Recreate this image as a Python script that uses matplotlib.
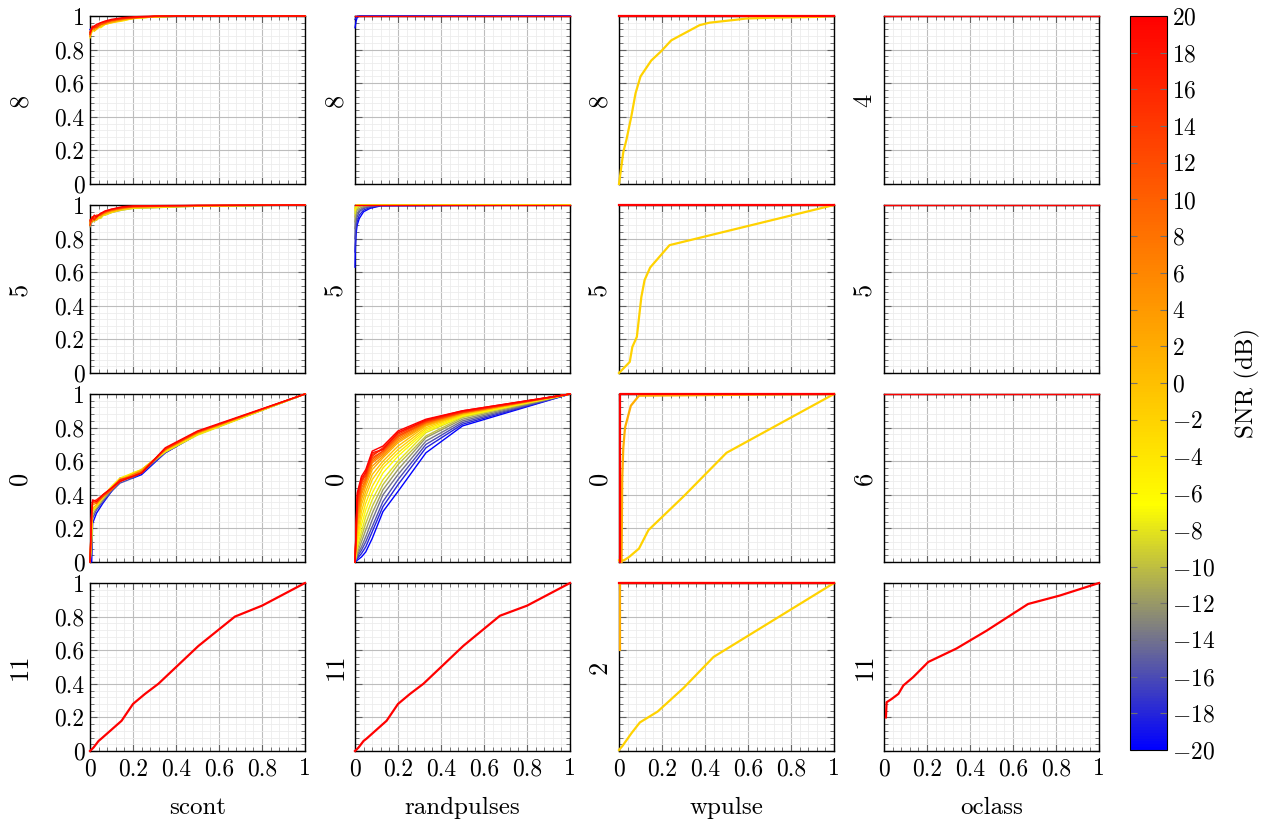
import numpy as np
import matplotlib
matplotlib.use("Agg")
import matplotlib.pyplot as plt
from matplotlib.colors import LinearSegmentedColormap, Normalize
from matplotlib.ticker import MultipleLocator, FuncFormatter

plt.rcParams['font.family'] = ['cmr10', 'DejaVu Serif']
plt.rcParams['mathtext.fontset'] = 'cm'
plt.rcParams['axes.formatter.use_mathtext'] = True

# column names / row labels
columns = ["scont", "randpulses", "wpulse", "oclass"]
row_labels = [["8", "5", "0", "11"],
              ["8", "5", "0", "11"],
              ["8", "5", "0", "2"],
              ["4", "5", "6", "11"]]

snr_min, snr_max = -20, 20
cbar_ticks = list(range(-20, 21, 2))

# ---- scont ----
scont_r1_x = [0, 0.01, 0.02, 0.03, 0.05, 0.07, 0.1, 0.15, 0.2, 0.3, 0.45, 1]
scont_r1_snr = [-20, -16, -12, -8, -4, 0, 4, 8, 12, 16, 20]
scont_r1_y = [
    [0.92, 0.93, 0.94, 0.93, 0.95, 0.96, 0.97, 0.98, 0.99, 0.995, 1, 1],
    [0.90, 0.92, 0.93, 0.94, 0.94, 0.96, 0.97, 0.98, 0.99, 0.995, 1, 1],
    [0.89, 0.91, 0.92, 0.93, 0.95, 0.96, 0.97, 0.98, 0.99, 0.995, 1, 1],
    [0.88, 0.92, 0.91, 0.93, 0.94, 0.955, 0.965, 0.975, 0.985, 0.995, 1, 1],
    [0.87, 0.91, 0.92, 0.94, 0.93, 0.95, 0.96, 0.97, 0.985, 0.995, 1, 1],
    [0.89, 0.93, 0.91, 0.92, 0.94, 0.95, 0.96, 0.975, 0.985, 0.995, 1, 1],
    [0.90, 0.92, 0.94, 0.93, 0.95, 0.96, 0.965, 0.98, 0.99, 0.997, 1, 1],
    [0.88, 0.93, 0.92, 0.94, 0.95, 0.955, 0.97, 0.98, 0.99, 0.997, 1, 1],
    [0.91, 0.92, 0.94, 0.93, 0.95, 0.96, 0.975, 0.985, 0.99, 0.998, 1, 1],
    [0.89, 0.94, 0.93, 0.94, 0.96, 0.965, 0.975, 0.985, 0.99, 0.998, 1, 1],
    [0.90, 0.93, 0.94, 0.95, 0.96, 0.97, 0.98, 0.99, 0.995, 1, 1, 1],
]

scont_r2_x = [0, 0.01, 0.02, 0.03, 0.05, 0.07, 0.1, 0.15, 0.2, 0.5, 1]
scont_r2_snr = [-20, -16, -12, -8, -4, 0, 4, 8, 12, 16, 20]
scont_r2_y = [
    [0.90, 0.91, 0.93, 0.92, 0.94, 0.95, 0.96, 0.98, 0.985, 0.995, 1],
    [0.88, 0.92, 0.90, 0.93, 0.93, 0.95, 0.96, 0.975, 0.985, 0.995, 1],
    [0.87, 0.90, 0.92, 0.91, 0.94, 0.94, 0.955, 0.97, 0.98, 0.993, 1],
    [0.89, 0.91, 0.90, 0.93, 0.92, 0.95, 0.96, 0.97, 0.98, 0.993, 1],
    [0.88, 0.92, 0.91, 0.92, 0.94, 0.94, 0.955, 0.975, 0.985, 0.995, 1],
    [0.90, 0.91, 0.93, 0.91, 0.93, 0.95, 0.96, 0.975, 0.985, 0.995, 1],
    [0.89, 0.93, 0.91, 0.93, 0.94, 0.95, 0.965, 0.98, 0.99, 0.996, 1],
    [0.91, 0.90, 0.93, 0.92, 0.95, 0.955, 0.97, 0.98, 0.99, 0.996, 1],
    [0.90, 0.92, 0.92, 0.94, 0.94, 0.96, 0.97, 0.985, 0.99, 0.997, 1],
    [0.88, 0.93, 0.91, 0.93, 0.95, 0.96, 0.975, 0.985, 0.992, 0.997, 1],
    [0.91, 0.92, 0.94, 0.93, 0.95, 0.965, 0.975, 0.99, 0.995, 0.998, 1],
]

scont_r3_x = [0, 0.008, 0.012, 0.03, 0.06, 0.1, 0.14, 0.2, 0.24, 0.35, 0.5, 1]
scont_r3_snr = [-20, -16, -12, -8, -4, 0, 4, 8, 12, 16, 20]
scont_r3_y = [
    [0, 0.00, 0.23, 0.29, 0.35, 0.42, 0.50, 0.50, 0.52, 0.65, 0.76, 1],
    [0, 0.05, 0.26, 0.31, 0.36, 0.42, 0.47, 0.50, 0.53, 0.65, 0.76, 1],
    [0, 0.10, 0.28, 0.32, 0.37, 0.43, 0.48, 0.51, 0.54, 0.655, 0.76, 1],
    [0, 0.14, 0.30, 0.33, 0.38, 0.44, 0.49, 0.53, 0.55, 0.655, 0.755, 1],
    [0, 0.18, 0.31, 0.33, 0.39, 0.45, 0.50, 0.53, 0.55, 0.66, 0.76, 1],
    [0, 0.22, 0.32, 0.34, 0.39, 0.44, 0.49, 0.52, 0.55, 0.665, 0.765, 1],
    [0, 0.26, 0.34, 0.35, 0.40, 0.44, 0.49, 0.52, 0.54, 0.67, 0.77, 1],
    [0, 0.28, 0.35, 0.36, 0.39, 0.43, 0.48, 0.52, 0.54, 0.67, 0.77, 1],
    [0, 0.30, 0.36, 0.35, 0.39, 0.43, 0.48, 0.51, 0.53, 0.67, 0.775, 1],
    [0, 0.30, 0.36, 0.37, 0.40, 0.44, 0.49, 0.51, 0.53, 0.675, 0.775, 1],
    [0, 0.31, 0.37, 0.36, 0.40, 0.44, 0.48, 0.51, 0.53, 0.68, 0.78, 1],
]

scont_r4_x = [0, 0.016, 0.04, 0.054, 0.147, 0.2, 0.256, 0.318, 0.504, 0.674, 0.8, 1]
scont_r4_snr = [20]
scont_r4_y = [[0, 0.02, 0.06, 0.075, 0.18, 0.28, 0.34, 0.40, 0.625, 0.80, 0.865, 1]]

# ---- randpulses ----
randp_r1_x = [0, 0.005, 0.01, 0.02, 1]
randp_r1_snr = [-20, -18, 20]
randp_r1_y = [
    [0.93, 0.97, 0.99, 1, 1],
    [0.98, 0.99, 1, 1, 1],
    [1, 1, 1, 1, 1],
]

randp_r2_x = [0, 0.002, 0.005, 0.01, 0.02, 0.04, 0.07, 0.12, 1]
randp_r2_snr = [-20, -18, -16, -14, -12, -10, -8, -6, -4, 20]
randp_r2_y = [
    [0.63, 0.75, 0.83, 0.88, 0.92, 0.96, 0.98, 0.995, 1],
    [0.72, 0.80, 0.86, 0.90, 0.94, 0.97, 0.985, 0.997, 1],
    [0.80, 0.86, 0.90, 0.93, 0.96, 0.98, 0.99, 1, 1],
    [0.86, 0.90, 0.93, 0.95, 0.97, 0.985, 0.995, 1, 1],
    [0.90, 0.93, 0.95, 0.97, 0.98, 0.99, 1, 1, 1],
    [0.93, 0.95, 0.97, 0.98, 0.99, 1, 1, 1, 1],
    [0.95, 0.97, 0.98, 0.99, 1, 1, 1, 1, 1],
    [0.97, 0.98, 0.99, 1, 1, 1, 1, 1, 1],
    [0.98, 0.99, 1, 1, 1, 1, 1, 1, 1],
    [1, 1, 1, 1, 1, 1, 1, 1, 1],
]

randp_r3_x = [0, 0.01, 0.03, 0.05, 0.08, 0.13, 0.2, 0.33, 0.5, 1]
randp_r3_snr = list(range(-20, 21, 2))
randp_r3_y = [
    [0, 0.01, 0.03, 0.06, 0.14, 0.30, 0.42, 0.65, 0.81, 1],
    [0, 0.02, 0.05, 0.09, 0.18, 0.33, 0.46, 0.68, 0.82, 1],
    [0, 0.03, 0.07, 0.12, 0.21, 0.36, 0.49, 0.70, 0.83, 1],
    [0, 0.04, 0.09, 0.15, 0.25, 0.40, 0.52, 0.72, 0.84, 1],
    [0, 0.05, 0.12, 0.19, 0.29, 0.43, 0.55, 0.74, 0.85, 1],
    [0, 0.07, 0.15, 0.23, 0.33, 0.46, 0.58, 0.75, 0.86, 1],
    [0, 0.09, 0.18, 0.27, 0.37, 0.49, 0.60, 0.77, 0.865, 1],
    [0, 0.11, 0.22, 0.31, 0.41, 0.53, 0.63, 0.78, 0.87, 1],
    [0, 0.13, 0.26, 0.35, 0.45, 0.56, 0.65, 0.79, 0.875, 1],
    [0, 0.16, 0.30, 0.39, 0.49, 0.58, 0.67, 0.80, 0.88, 1],
    [0, 0.19, 0.34, 0.42, 0.52, 0.60, 0.69, 0.81, 0.88, 1],
    [0, 0.22, 0.37, 0.45, 0.55, 0.62, 0.71, 0.815, 0.885, 1],
    [0, 0.25, 0.40, 0.47, 0.57, 0.63, 0.72, 0.82, 0.885, 1],
    [0, 0.27, 0.42, 0.48, 0.59, 0.64, 0.73, 0.825, 0.89, 1],
    [0, 0.29, 0.44, 0.49, 0.60, 0.65, 0.74, 0.83, 0.89, 1],
    [0, 0.30, 0.46, 0.50, 0.61, 0.66, 0.75, 0.83, 0.89, 1],
    [0, 0.33, 0.47, 0.52, 0.62, 0.66, 0.75, 0.835, 0.89, 1],
    [0, 0.35, 0.49, 0.51, 0.64, 0.67, 0.76, 0.84, 0.895, 1],
    [0, 0.37, 0.48, 0.54, 0.63, 0.68, 0.77, 0.84, 0.895, 1],
    [0, 0.39, 0.50, 0.53, 0.65, 0.67, 0.77, 0.845, 0.90, 1],
    [0, 0.41, 0.51, 0.55, 0.66, 0.69, 0.78, 0.85, 0.90, 1],
]

randp_r4_x = [0, 0.016, 0.04, 0.054, 0.147, 0.2, 0.256, 0.318, 0.504, 0.674, 0.8, 1]
randp_r4_snr = [20]
randp_r4_y = [[0, 0.02, 0.06, 0.074, 0.18, 0.28, 0.34, 0.40, 0.626, 0.805, 0.865, 1]]

# ---- wpulse ----
wpulse_r1_curves = [
    (-2, [0, 0.02, 0.034, 0.057, 0.077, 0.1, 0.15, 0.196, 0.243, 0.374, 0.42, 0.56, 0.59, 0.714, 0.93, 1],
         [0, 0.19, 0.26, 0.40, 0.54, 0.64, 0.735, 0.79, 0.855, 0.945, 0.96, 0.98, 0.985, 0.99, 0.995, 1]),
    (20, [0, 1], [1, 1]),
]
wpulse_r2_curves = [
    (-2, [0, 0.05, 0.062, 0.083, 0.104, 0.119, 0.145, 0.235, 1],
         [0, 0.066, 0.155, 0.215, 0.453, 0.553, 0.628, 0.761, 1]),
    (20, [0, 1], [1, 1]),
]
wpulse_r3_curves = [
    (-2, [0, 0.023, 0.047, 0.093, 0.137, 0.3, 0.5, 1],
         [0.01, 0.01, 0.03, 0.08, 0.19, 0.39, 0.65, 1]),
    (2, [0.012, 0.015, 0.02, 0.028, 0.055, 0.093, 1],
        [0.0, 0.5, 0.68, 0.80, 0.93, 0.99, 1]),
    (20, [0.006, 0.006, 1], [0, 1, 1]),
]
wpulse_r4_curves = [
    (-2, [0, 0.016, 0.058, 0.097, 0.18, 0.3, 0.44, 1],
         [0.006, 0.03, 0.106, 0.17, 0.235, 0.375, 0.56, 1]),
    (2, [0.003, 0.003, 1], [0.6, 1, 1]),
    (20, [0, 1], [1, 1]),
]

# ---- oclass ----
oclass_flat_x = [0, 1]
oclass_flat_y = [1, 1]
oclass_r4_x = [0.009, 0.012, 0.036, 0.067, 0.09, 0.136, 0.206, 0.337, 0.477, 0.67, 0.817, 1]
oclass_r4_y = [0.2, 0.29, 0.31, 0.34, 0.39, 0.44, 0.53, 0.61, 0.716, 0.875, 0.925, 1]

# blue -> gray -> yellow -> red colormap
cmap = LinearSegmentedColormap.from_list(
    "snr", [(0.0, (0, 0, 1)), (1/6, (0.5, 0.5, 0.5)), (1/3, (1, 1, 0)), (1.0, (1, 0, 0))])
norm = Normalize(snr_min, snr_max)


def table(x, snrs, ys):
    return [(s, x, y) for s, y in zip(snrs, ys)]


panels = [
    [table(scont_r1_x, scont_r1_snr, scont_r1_y),
     table(randp_r1_x, randp_r1_snr, randp_r1_y),
     wpulse_r1_curves,
     [(20, oclass_flat_x, oclass_flat_y)]],
    [table(scont_r2_x, scont_r2_snr, scont_r2_y),
     table(randp_r2_x, randp_r2_snr, randp_r2_y),
     wpulse_r2_curves,
     [(20, oclass_flat_x, oclass_flat_y)]],
    [table(scont_r3_x, scont_r3_snr, scont_r3_y),
     table(randp_r3_x, randp_r3_snr, randp_r3_y),
     wpulse_r3_curves,
     [(20, oclass_flat_x, oclass_flat_y)]],
    [table(scont_r4_x, scont_r4_snr, scont_r4_y),
     table(randp_r4_x, randp_r4_snr, randp_r4_y),
     wpulse_r4_curves,
     [(20, oclass_r4_x, oclass_r4_y)]],
]

W, H = 1278, 821
fig = plt.figure(figsize=(W / 100, H / 100), dpi=100)

col_left = [90, 355, 619, 884]
row_top = [16, 205, 394, 583]
ax_w, ax_h = 215, 168
fs = 17

for r in range(4):
    for c in range(4):
        ax = fig.add_axes([col_left[c] / W, 1 - (row_top[r] + ax_h) / H, ax_w / W, ax_h / H])
        for snr, x, y in panels[r][c]:
            lw = 1.6 if c == 2 or r == 3 else 1.0
            ax.plot(x, y, color=cmap(norm(snr)), lw=lw, clip_on=False, zorder=3)
        ax.set_xlim(0, 1)
        ax.set_ylim(0, 1)
        ax.xaxis.set_major_locator(MultipleLocator(0.2))
        ax.yaxis.set_major_locator(MultipleLocator(0.2))
        ax.xaxis.set_minor_locator(MultipleLocator(0.04))
        ax.yaxis.set_minor_locator(MultipleLocator(0.04))
        ax.grid(which='major', color='#bdbdbd', lw=0.8)
        ax.grid(which='minor', color='#ececec', lw=0.6)
        ax.set_axisbelow(True)
        ax.tick_params(which='both', direction='in', top=True, right=True, labelsize=fs, color='#606060')
        ax.tick_params(which='major', length=5, width=0.8)
        ax.tick_params(which='minor', length=3, width=0.6)
        fmt = FuncFormatter(lambda v, p: f"{v:g}")
        ax.xaxis.set_major_formatter(fmt)
        ax.yaxis.set_major_formatter(fmt)
        ax.tick_params(axis='x', labelbottom=(r == 3), pad=5)
        ax.tick_params(axis='y', labelleft=(c == 0), pad=4)
        for sp in ax.spines.values():
            sp.set_linewidth(1.0)
            sp.set_zorder(2.5)
        ax.set_ylabel(row_labels[c][r], fontsize=fs + 2)
        if c == 0:
            ax.yaxis.set_label_coords(-0.27, 0.5)
        else:
            ax.yaxis.set_label_coords(-0.035, 0.5)
        if r == 3:
            ax.set_xlabel(columns[c], fontsize=fs + 1, labelpad=12)

cax = fig.add_axes([1130 / W, 1 - 750 / H, 37 / W, 734 / H])
sm = plt.cm.ScalarMappable(norm=norm, cmap=cmap)
cb = fig.colorbar(sm, cax=cax, ticks=cbar_ticks)
cb.outline.set_linewidth(0.8)
cax.tick_params(direction='in', length=5, width=0.8, color='#707070', labelsize=fs, left=True, right=True)
cb.set_label("SNR (dB)", fontsize=fs + 1, labelpad=14)

fig.savefig("out.png", dpi=100)
